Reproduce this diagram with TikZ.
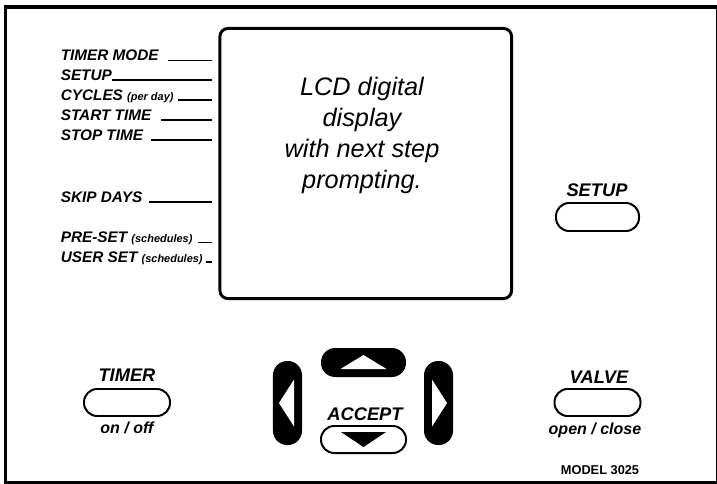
\documentclass[tikz,border=0pt]{standalone}
\usepackage{fontspec}
\setmainfont{Liberation Sans}
\usepackage{tikz}
\newcommand{\nota}[1]{{\fontsize{7.8}{9}\selectfont #1}}

\begin{document}
\begin{tikzpicture}[x=0.025cm,y=-0.025cm]
\tikzstyle{etichetta} = [anchor=base west, inner sep=0, font=\bfseries\itshape\fontsize{10.9}{12}\selectfont]
\tikzstyle{linea} = [line width=1.2pt]
\tikzstyle{tasto} = [draw, line width=1.4pt, rounded corners=0.33cm, minimum width=2.15cm, minimum height=0.675cm, inner sep=0]
\tikzstyle{nero} = [fill, rounded corners=0.355cm, inner sep=0]
\tikzstyle{scritta} = [anchor=base, inner sep=0, font=\bfseries\itshape\fontsize{13}{15}\selectfont]
\tikzstyle{sotto} = [anchor=base, inner sep=0, font=\bfseries\itshape\fontsize{11.4}{13}\selectfont]
\useasboundingbox (0,0) rectangle (717,483);
\draw[line width=2.8pt] (5.5,7) rectangle (717.5,483);
\node[draw, line width=2.1pt, rounded corners=0.2cm, minimum width=7.29cm, minimum height=6.75cm] (lcd) at (365.75,163.5) {};
\node[align=center, anchor=base, inner sep=0, font=\itshape\fontsize{18}{22}\selectfont] (testo) at (362,188) {LCD digital\\display\\with next step\\prompting.};
\coordinate (bordo) at (212,0);
\node[etichetta] (v1) at (60.5,60.5) {TIMER MODE};
\node[etichetta] (v2) at (60.5,80) {SETUP};
\node[etichetta] (v3) at (60.5,100) {CYCLES \nota{(per day)}};
\node[etichetta] (v4) at (60.5,120) {START TIME};
\node[etichetta] (v5) at (60.5,140) {STOP TIME};
\node[etichetta] (v6) at (60.5,202) {SKIP DAYS};
\node[etichetta] (v7) at (60.5,242.5) {PRE-SET \nota{(schedules)}};
\node[etichetta] (v8) at (60.5,262) {USER SET \nota{(schedules)}};
\draw[linea] ([xshift=6.4pt]v1.base east) -- (v1.base east -| bordo);
\draw[linea] (v2.base east) -- (v2.base east -| bordo);
\draw[linea] ([xshift=2.8pt]v3.base east) -- (v3.base east -| bordo);
\draw[linea] ([xshift=6.4pt]v4.base east) -- (v4.base east -| bordo);
\draw[linea] ([xshift=5.7pt]v5.base east) -- (v5.base east -| bordo);
\draw[linea] ([xshift=4.3pt]v6.base east) -- (v6.base east -| bordo);
\draw[linea] ([xshift=3.6pt]v7.base east) -- (v7.base east -| bordo);
\draw[linea] ([xshift=2.1pt]v8.base east) -- (v8.base east -| bordo);
\node[tasto, minimum width=2.075cm, minimum height=0.7cm] (setup) at (597.5,217) {};
\node[scritta] (setupt) at (597,196.7) {SETUP};
\node[tasto] (timer) at (127,402.5) {};
\node[scritta] (timert) at (127,381.7) {TIMER};
\node[sotto] (onoff) at (127,433) {on / off};
\node[tasto] (valve) at (597.5,402.5) {};
\node[scritta] (valvet) at (599,383) {VALVE};
\node[sotto] (openclose) at (595,434) {open / close};
\node[anchor=base, inner sep=0, font=\bfseries\fontsize{9.1}{10}\selectfont] (model) at (600,474) {MODEL 3025};
\node[nero, minimum width=2.125cm, minimum height=0.725cm] (su) at (363.5,362.5) {};
\node[nero, minimum width=0.725cm, minimum height=2.1cm] (sx) at (287.5,403) {};
\node[nero, minimum width=0.725cm, minimum height=2.1cm] (dx) at (438.5,403) {};
\node[tasto, minimum width=2.125cm] (giu) at (363.5,439.5) {};
\node[scritta] (accept) at (365,420.7) {ACCEPT};
\fill[white] ([shift={(-23,6.5)}]su.center) -- ([shift={(23,6.5)}]su.center) -- ([shift={(0,-7.5)}]su.center) -- cycle;
\fill ([shift={(-22.5,-7.5)}]giu.center) -- ([shift={(22.5,-7.5)}]giu.center) -- ([shift={(0,7.5)}]giu.center) -- cycle;
\fill[white] ([shift={(6.5,-23.5)}]sx.center) -- ([shift={(6.5,23.5)}]sx.center) -- ([shift={(-8.5,0)}]sx.center) -- cycle;
\fill[white] ([shift={(-6.5,-23.5)}]dx.center) -- ([shift={(-6.5,23.5)}]dx.center) -- ([shift={(8.5,0)}]dx.center) -- cycle;
\end{tikzpicture}
\end{document}
